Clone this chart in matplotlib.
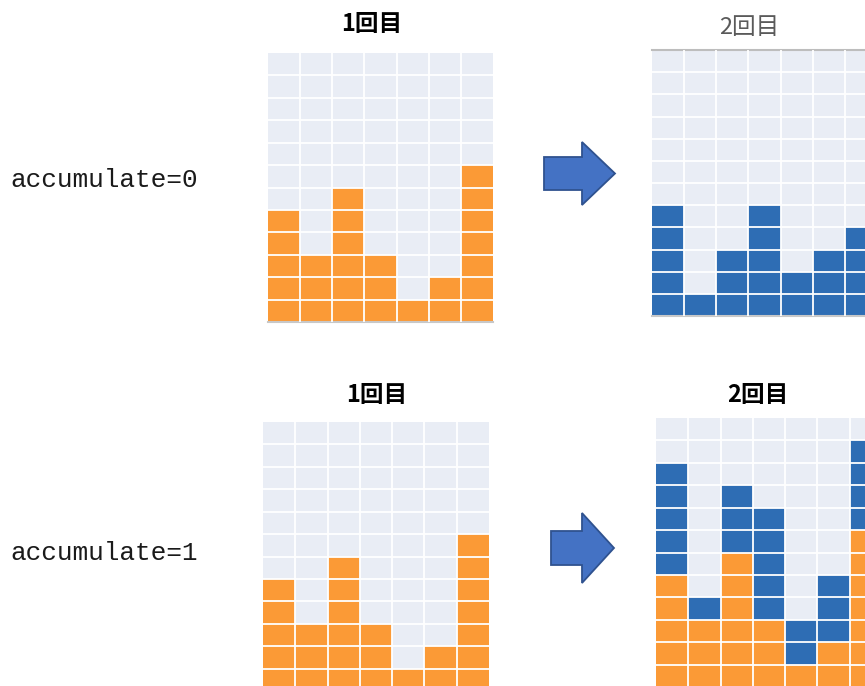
import numpy as np
import matplotlib
matplotlib.use("Agg")
import matplotlib.pyplot as plt
from matplotlib.patches import Polygon

# ---- data ----
columns = [1, 2, 3, 4, 5, 6, 7]
first_round = [5, 3, 6, 3, 1, 2, 7]
second_round = [5, 1, 3, 5, 2, 3, 4]
n_rows = 12
row_labels = ["accumulate=0", "accumulate=1"]
titles = ["1回目", "2回目"]

ORANGE = "#FB9A36"
BLUE = "#2E6DB4"
BG = "#E9EDF5"
W, H = 865, 686

fig = plt.figure(figsize=(W / 100, H / 100), dpi=100)
fig.patch.set_facecolor("white")


def px_axes(x0, y0, w, h):
    return fig.add_axes([x0 / W, 1 - (y0 + h) / H, w / W, h / H])


def grid_axes(ax, top_line=False, bottom_line=False):
    ax.set_facecolor(BG)
    ax.set_xlim(-0.5, len(columns) - 0.5)
    ax.set_ylim(0, n_rows)
    ax.set_xticks(np.arange(0.5, len(columns) - 0.5, 1))
    ax.set_yticks(np.arange(1, n_rows))
    ax.tick_params(length=0, labelbottom=False, labelleft=False)
    ax.grid(True, color="white", lw=1.3)
    ax.set_axisbelow(False)
    for s in ["left", "right", "top", "bottom"]:
        ax.spines[s].set_visible(False)
    if top_line:
        ax.spines["top"].set_visible(True)
        ax.spines["top"].set_color("#BDBDBD")
        ax.spines["top"].set_linewidth(1.5)
    if bottom_line:
        ax.spines["bottom"].set_visible(True)
        ax.spines["bottom"].set_color("#C8C8C8")
        ax.spines["bottom"].set_linewidth(1.5)


x = np.arange(len(columns))

# top-left: first round
ax1 = px_axes(268, 53, 225, 269)
grid_axes(ax1, bottom_line=True)
ax1.bar(x, first_round, width=1.0, color=ORANGE, linewidth=0)

# top-right: second round (accumulate=0)
ax2 = px_axes(652, 50, 225, 266)
grid_axes(ax2, top_line=True, bottom_line=True)
ax2.bar(x, second_round, width=1.0, color=BLUE, linewidth=0)

# bottom-left: first round
ax3 = px_axes(263, 422, 226, 269)
grid_axes(ax3)
ax3.bar(x, first_round, width=1.0, color=ORANGE, linewidth=0)

# bottom-right: accumulated
ax4 = px_axes(656, 418, 226, 269)
grid_axes(ax4)
ax4.bar(x, first_round, width=1.0, color=ORANGE, linewidth=0)
ax4.bar(x, second_round, bottom=first_round, width=1.0, color=BLUE, linewidth=0)

# overlay for text and arrows (pixel coordinates)
ov = fig.add_axes([0, 0, 1, 1])
ov.set_xlim(0, W)
ov.set_ylim(H, 0)
ov.axis("off")
ov.patch.set_alpha(0)

cjk = ["Noto Sans CJK JP", "DejaVu Sans"]
ov.text(372, 24, titles[0], ha="center", va="center", fontsize=17,
        family=cjk, fontweight="bold", color="black")
ov.text(749, 28, titles[1], ha="center", va="center", fontsize=17,
        family=cjk, fontweight="normal", color="#5A5A5A")
ov.text(377, 395, titles[0], ha="center", va="center", fontsize=17,
        family=cjk, fontweight="bold", color="black")
ov.text(758, 395, titles[1], ha="center", va="center", fontsize=17,
        family=cjk, fontweight="bold", color="black")

ov.text(10, 180, row_labels[0], ha="left", va="center", fontsize=18.8,
        family="Liberation Mono", color="#1A1A1A")
ov.text(10, 553, row_labels[1], ha="left", va="center", fontsize=18.8,
        family="Liberation Mono", color="#1A1A1A")


def arrow(xb0, xh, xt, yb0, yb1, yh0, yh1):
    ym = (yh0 + yh1) / 2
    pts = [(xb0, yb0), (xh, yb0), (xh, yh0), (xt, ym), (xh, yh1), (xh, yb1), (xb0, yb1)]
    ov.add_patch(Polygon(pts, closed=True, facecolor="#4472C4",
                         edgecolor="#2F528F", linewidth=1.3))


arrow(544, 582, 615, 157, 190, 142, 205)
arrow(551, 582, 614, 531, 565, 513, 583)

fig.savefig("out.png", dpi=100)
